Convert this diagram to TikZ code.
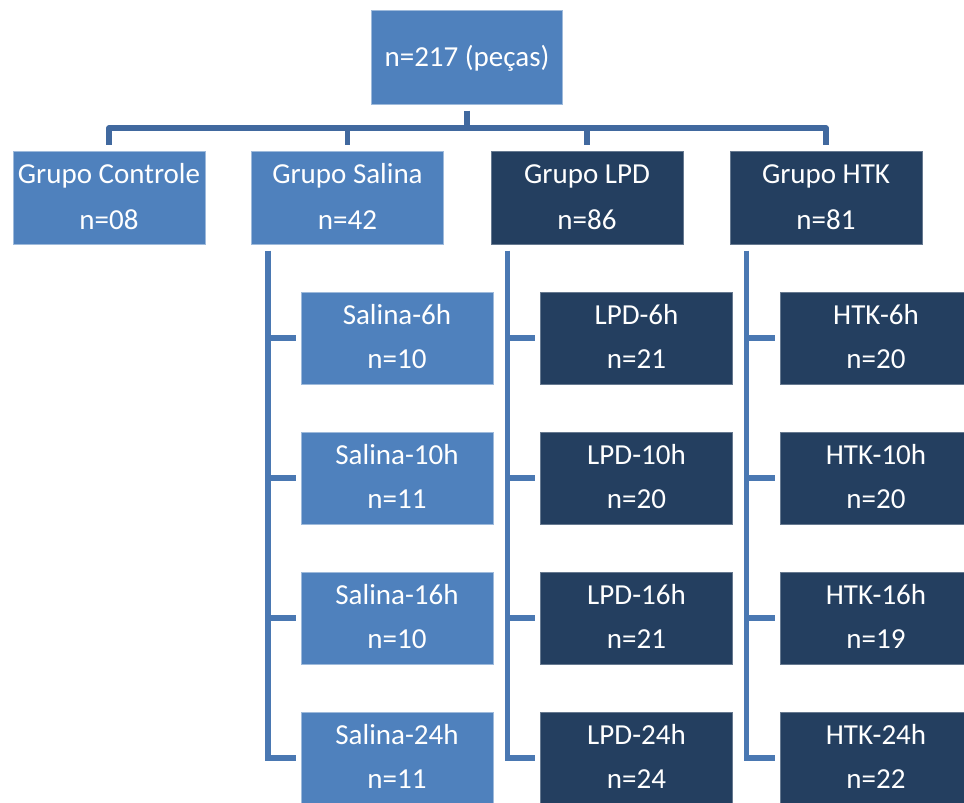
\documentclass[tikz,border=0pt]{standalone}
\usepackage{fontspec}
\setmainfont{Carlito}
\usetikzlibrary{calc}
\definecolor{lightbox}{HTML}{4F81BD}
\definecolor{darkbox}{HTML}{243F60}
\definecolor{treeline}{HTML}{41699F}
\definecolor{sideline}{HTML}{4A78B2}
\tikzset{
  box/.style={rectangle, text=white, align=center, inner sep=0pt, line width=0.75pt},
  lightb/.style={box, fill=lightbox, draw=lightbox!55!white},
  darkb/.style={box, fill=darkbox, draw=darkbox!70!white},
  topbox/.style={minimum width=143.6pt, minimum height=70.5pt, font=\fontsize{21.75}{26}\selectfont},
  grpbox/.style={minimum width=144pt, minimum height=69.75pt, font=\fontsize{21.75}{34.5}\selectfont},
  subbox/.style={minimum width=144pt, minimum height=69pt, font=\fontsize{21.75}{33}\selectfont},
  tree/.style={draw=treeline, line width=4.25pt, line join=round},
  side/.style={draw=sideline, line width=4pt},
}
\newcommand{\gtext}[2]{\rule{0pt}{17pt}#1\\#2\rule[-3.8pt]{0pt}{3.8pt}}
\newcommand{\stext}[2]{\rule{0pt}{16.5pt}#1\\#2\rule[-4.05pt]{0pt}{4.05pt}}
\newcommand{\ttext}[1]{\rule[-5.5pt]{0pt}{24.5pt}#1}
\begin{document}
\begin{tikzpicture}[x=0.75pt,y=-0.75pt]
\useasboundingbox (0,0) rectangle (964,803);
\clip (0,0) rectangle (964,803);
% top
\node[lightb,topbox] (top) at (467,57) {\ttext{n=217 (peças)}};
% groups
\node[lightb,grpbox] (ctrl) at (109,197.5) {\gtext{Grupo Controle}{n=08}};
\node[lightb,grpbox] (sal) at (347.5,197.5) {\gtext{Grupo Salina}{n=42}};
\node[darkb,grpbox] (lpd) at (587,197.5) {\gtext{Grupo LPD}{n=86}};
\node[darkb,grpbox] (htk) at (826,197.5) {\gtext{Grupo HTK}{n=81}};
% salina subs
\node[lightb,subbox] (s1) at (397,338) {\stext{Salina-6h}{n=10}};
\node[lightb,subbox] (s2) at (397,478) {\stext{Salina-10h}{n=11}};
\node[lightb,subbox] (s3) at (397,618) {\stext{Salina-16h}{n=10}};
\node[lightb,subbox] (s4) at (397,758) {\stext{Salina-24h}{n=11}};
% lpd subs
\node[darkb,subbox] (l1) at (636.5,338) {\stext{LPD-6h}{n=21}};
\node[darkb,subbox] (l2) at (636.5,478) {\stext{LPD-10h}{n=20}};
\node[darkb,subbox] (l3) at (636.5,618) {\stext{LPD-16h}{n=21}};
\node[darkb,subbox] (l4) at (636.5,758) {\stext{LPD-24h}{n=24}};
% htk subs
\node[darkb,subbox] (h1) at (876,338) {\stext{HTK-6h}{n=20}};
\node[darkb,subbox] (h2) at (876,478) {\stext{HTK-10h}{n=20}};
\node[darkb,subbox] (h3) at (876,618) {\stext{HTK-16h}{n=19}};
\node[darkb,subbox] (h4) at (876,758) {\stext{HTK-24h}{n=22}};
% top tree
\coordinate (bar) at (467,128);
\draw[tree, shorten <=4.5pt] (top.south) -- (top.south |- bar);
\draw[tree, shorten <=4.5pt, shorten >=4.5pt] (ctrl.north) |- (bar) -| (htk.north);
\draw[tree, shorten >=4.5pt] (sal.north |- bar) -- (sal.north);
\draw[tree, shorten >=4.5pt] (lpd.north |- bar) -- (lpd.north);
% side trees
\foreach \g/\s in {sal/s, lpd/l, htk/h}{
  \coordinate (\g x) at ([xshift=12.75pt]\g.south west);
  \draw[side, shorten <=4.5pt, shorten >=3.75pt] (\g x) |- (\s4.west);
  \foreach \i in {1,2,3}{
    \draw[side, shorten >=3.75pt] (\g x |- \s\i.west) -- (\s\i.west);
  }
}
\end{tikzpicture}
\end{document}
